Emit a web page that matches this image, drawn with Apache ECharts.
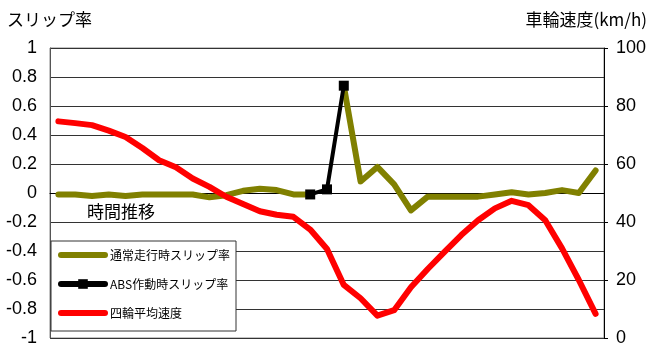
<!DOCTYPE html>
<html>
<head>
<meta charset="utf-8">
<script src="https://cdn.jsdelivr.net/npm/echarts@6/dist/echarts.min.js"></script>
<style>
  html, body { margin: 0; padding: 0; background: #fff; }
  #main { width: 650px; height: 350px; }
</style>
</head>
<body>
<div id="main"></div>
<script>
// 時間推移（目盛のみ、ラベルなし）
let categories = ['1', '2', '3', '4', '5', '6', '7', '8', '9', '10', '11',
    '12', '13', '14', '15', '16', '17', '18', '19', '20', '21', '22',
    '23', '24', '25', '26', '27', '28', '29', '30', '31', '32', '33'];

// 通常走行時スリップ率
let normalSlip = [-0.01, -0.01, -0.02, -0.01, -0.02, -0.01, -0.01, -0.01, -0.01, -0.03, -0.015,
    0.015, 0.03, 0.02, -0.01, -0.01, null, 0.74, 0.08, 0.18, 0.06, -0.12,
    -0.025, -0.025, -0.025, -0.025, -0.01, 0.005, -0.01, 0.0, 0.02, 0.0, 0.155];

// ABS作動時スリップ率
let absSlip = [null, null, null, null, null, null, null, null, null, null, null,
    null, null, null, null, -0.01, 0.025, 0.74, null, null, null, null,
    null, null, null, null, null, null, null, null, null, null, null];

// 四輪平均速度 (km/h)
let wheelSpeed = [74.7, 74.1, 73.4, 71.5, 69.3, 65.5, 61.3, 58.9, 55.0, 52.1, 48.7,
    46.2, 43.7, 42.5, 41.8, 37.4, 30.7, 18.3, 13.7, 7.7, 9.6, 17.5,
    23.8, 29.7, 35.5, 40.6, 44.7, 47.3, 45.8, 40.6, 30.9, 20.0, 8.3];

let seriesNames = ['通常走行時スリップ率', 'ABS作動時スリップ率', '四輪平均速度'];

let numFont = '"Liberation Sans Narrow", "Liberation Sans", Arial, sans-serif';
let cjkFont = '"Liberation Sans Narrow", "Noto Sans CJK JP", sans-serif';

let myChart = echarts.init(document.getElementById('main'));
let option = {
    animation: false,
    backgroundColor: '#fff',
    grid: {
        left: 50,
        right: 46,
        top: 48,
        bottom: 12,
        show: true,
        borderColor: '#888',
        borderWidth: 1
    },
    legend: {
        orient: 'vertical',
        left: 51,
        top: 241,
        data: [
            {name: seriesNames[0], itemStyle: {opacity: 0}},
            {name: seriesNames[1]},
            {name: seriesNames[2], itemStyle: {opacity: 0}}
        ],
        itemWidth: 44,
        itemHeight: 12,
        itemGap: 17,
        padding: [8, 6, 12, 7],
        backgroundColor: '#fff',
        borderColor: '#333',
        borderWidth: 1,
        lineStyle: {width: 6},
        textStyle: {
            fontSize: 12,
            color: '#000',
            fontFamily: cjkFont
        }
    },
    xAxis: [
        {
            type: 'category',
            data: categories,
            boundaryGap: true,
            axisLine: {
                onZero: true,
                lineStyle: {color: '#000', width: 1}
            },
            axisTick: {
                inside: true,
                length: 4,
                lineStyle: {color: '#000'}
            },
            axisLabel: {show: false},
            splitLine: {show: false}
        }
    ],
    yAxis: [
        {
            type: 'value',
            min: -1,
            max: 1,
            interval: 0.2,
            axisLine: {show: true, lineStyle: {color: '#555'}},
            axisTick: {show: false},
            axisLabel: {
                margin: 13,
                fontSize: 18,
                color: '#000',
                fontFamily: numFont
            },
            splitLine: {lineStyle: {color: '#333', width: 1}}
        },
        {
            type: 'value',
            min: 0,
            max: 100,
            interval: 20,
            position: 'right',
            axisLine: {show: true, lineStyle: {color: '#000'}},
            axisTick: {show: true, length: 4, lineStyle: {color: '#000'}},
            axisLabel: {
                margin: 12,
                fontSize: 18,
                color: '#000',
                fontFamily: numFont
            },
            splitLine: {show: false}
        }
    ],
    graphic: [
        {
            type: 'text', left: 7, top: 11,
            style: {text: 'スリップ率', fill: '#000', font: '17px ' + cjkFont}
        },
        {
            type: 'text', right: 3, top: 11,
            style: {text: '車輪速度(km/h)', fill: '#000', font: '17px ' + cjkFont}
        },
        {
            type: 'text', left: 87, top: 203,
            style: {text: '時間推移', fill: '#000', font: '17px ' + cjkFont}
        }
    ],
    series: [
        {
            name: seriesNames[0],
            type: 'line',
            yAxisIndex: 0,
            data: normalSlip,
            symbol: 'none',
            connectNulls: false,
            color: '#808000',
            lineStyle: {width: 6, color: '#808000', cap: 'round', join: 'round'}
        },
        {
            name: seriesNames[1],
            type: 'line',
            yAxisIndex: 0,
            data: absSlip,
            symbol: 'rect',
            symbolSize: 10,
            showSymbol: true,
            color: '#000',
            itemStyle: {color: '#000'},
            lineStyle: {width: 4, color: '#000', cap: 'round', join: 'round'}
        },
        {
            name: seriesNames[2],
            type: 'line',
            yAxisIndex: 1,
            data: wheelSpeed,
            symbol: 'none',
            color: '#ff0000',
            lineStyle: {width: 6, color: '#ff0000', cap: 'round', join: 'round'}
        }
    ]
};
myChart.setOption(option);
</script>
</body>
</html>
